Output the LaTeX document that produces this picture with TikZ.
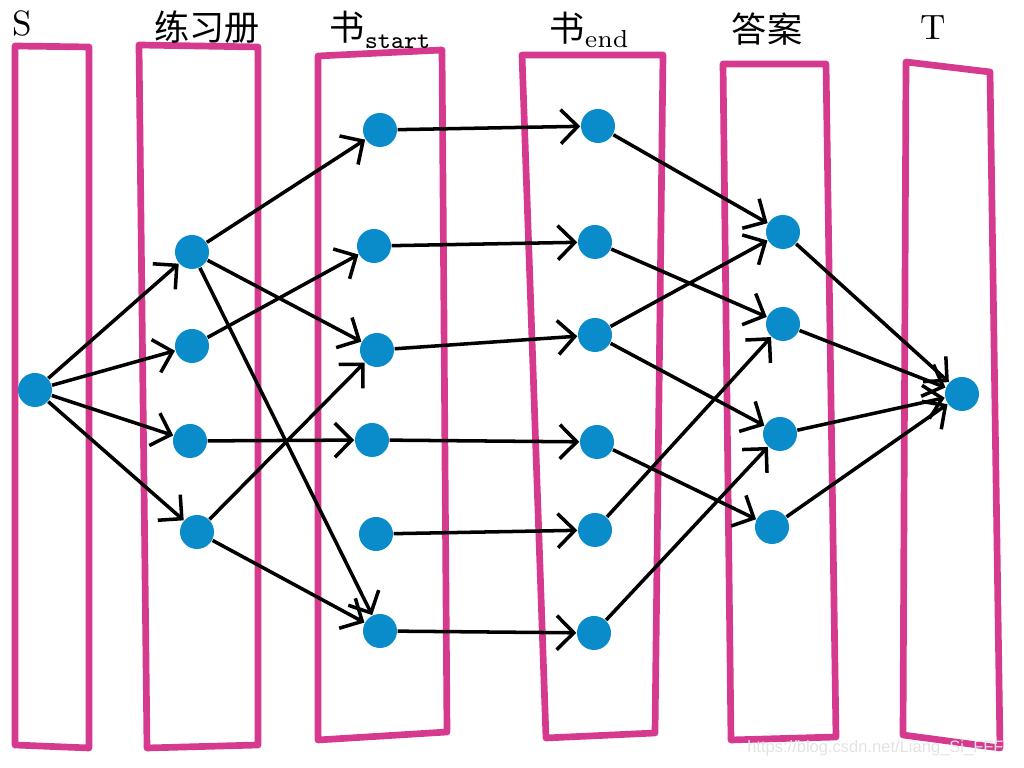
\documentclass[tikz,border=0pt]{standalone}
\usepackage{fontspec}
\newfontfamily\cjk{Noto Sans CJK SC}
\newfontfamily\markfont{Liberation Sans}
\definecolor{lanePink}{HTML}{D63A8F}
\definecolor{dotBlue}{HTML}{0A8CCB}
\usetikzlibrary{arrows.meta}

\begin{document}
\begin{tikzpicture}[x=0.01cm, y=-0.01cm,
    lane/.style={lanePink, line width=1.9pt, line join=round, line cap=round},
    dot/.style={circle, fill=dotBlue, inner sep=0pt, minimum size=3.4mm},
    flow/.style={-{Straight Barb[length=1.7mm,width=3.4mm]}, line width=1pt, black},
    head/.style={font=\fontsize{10}{12}\selectfont}]
  \useasboundingbox (0,0) rectangle (1024,768);
  % layer frames
  \draw[lane] (15,46) -- (89,47) -- (89,748) -- (15,745) -- cycle;
  \draw[lane] (139,45) -- (258,47) -- (258,745) -- (147,748) -- cycle;
  \draw[lane] (318,56) -- (442,50) -- (447,732) -- (318,740) -- cycle;
  \draw[lane] (522,55) -- (663,55) -- (655,733) -- (546,738) -- cycle;
  \draw[lane] (723,64) -- (826,64) -- (836,737) -- (731,740) -- cycle;
  \draw[lane] (906,62) -- (990,72) -- (1000,748) -- (903,735) -- cycle;
  % layer titles
  \node[head] (tS) at (22,24) {S};
  \node[head] (tWb) at (207,27) {\cjk 练习册};
  \node[head] (tBs) at (380,30) {\cjk 书\raisebox{-0.4ex}{\ttfamily\scriptsize start}};
  \node[head] (tBe) at (590,30) {\cjk 书$_{\mathrm{end}}$};
  \node[head] (tAns) at (767,29) {\cjk 答案};
  \node[head] (tT) at (933,28) {T};
  % vertices
  \node[dot] (src) at (35,390) {};
  \node[dot] (wb1) at (192,252) {};
  \node[dot] (wb2) at (192,346) {};
  \node[dot] (wb3) at (190,441) {};
  \node[dot] (wb4) at (197,532) {};
  \node[dot] (bs1) at (380,130) {};
  \node[dot] (bs2) at (374,246) {};
  \node[dot] (bs3) at (377,350) {};
  \node[dot] (bs4) at (372,440) {};
  \node[dot] (bs5) at (376,534) {};
  \node[dot] (bs6) at (380,631) {};
  \node[dot] (be1) at (598,126) {};
  \node[dot] (be2) at (595,242) {};
  \node[dot] (be3) at (595,335) {};
  \node[dot] (be4) at (597,442) {};
  \node[dot] (be5) at (595,530) {};
  \node[dot] (be6) at (594,633) {};
  \node[dot] (ans1) at (783,232) {};
  \node[dot] (ans2) at (783,324) {};
  \node[dot] (ans3) at (780,434) {};
  \node[dot] (ans4) at (772,527) {};
  \node[dot] (sink) at (962,394) {};
  % S to workbooks
  \draw[flow] (src) -- (wb1);
  \draw[flow] (src) -- (wb2);
  \draw[flow] (src) -- (wb3);
  \draw[flow] (src) -- (wb4);
  % workbooks to books
  \draw[flow] (wb1) -- (bs1);
  \draw[flow] (wb1) -- (bs3);
  \draw[flow] (wb1) -- (bs6);
  \draw[flow] (wb2) -- (bs2);
  \draw[flow] (wb3) -- (bs4);
  \draw[flow] (wb4) -- (bs3);
  \draw[flow] (wb4) -- (bs6);
  % book split
  \draw[flow] (bs1) -- (be1);
  \draw[flow] (bs2) -- (be2);
  \draw[flow] (bs3) -- (be3);
  \draw[flow] (bs4) -- (be4);
  \draw[flow] (bs5) -- (be5);
  \draw[flow] (bs6) -- (be6);
  % books to answers
  \draw[flow] (be1) -- (ans1);
  \draw[flow] (be2) -- (ans2);
  \draw[flow] (be3) -- (ans1);
  \draw[flow] (be3) -- (ans3);
  \draw[flow] (be4) -- (ans4);
  \draw[flow] (be5) -- (ans2);
  \draw[flow] (be6) -- (ans3);
  % answers to T
  \draw[flow] (ans1) -- (sink);
  \draw[flow] (ans2) -- (sink);
  \draw[flow] (ans3) -- (sink);
  \draw[flow] (ans4) -- (sink);
  \node[anchor=east, text=gray!22, font=\markfont\fontsize{4.7}{5.5}\selectfont] (mark) at (1016,748) {https://blog.csdn.net/Liang\_Si\_FFF};
\end{tikzpicture}
\end{document}
